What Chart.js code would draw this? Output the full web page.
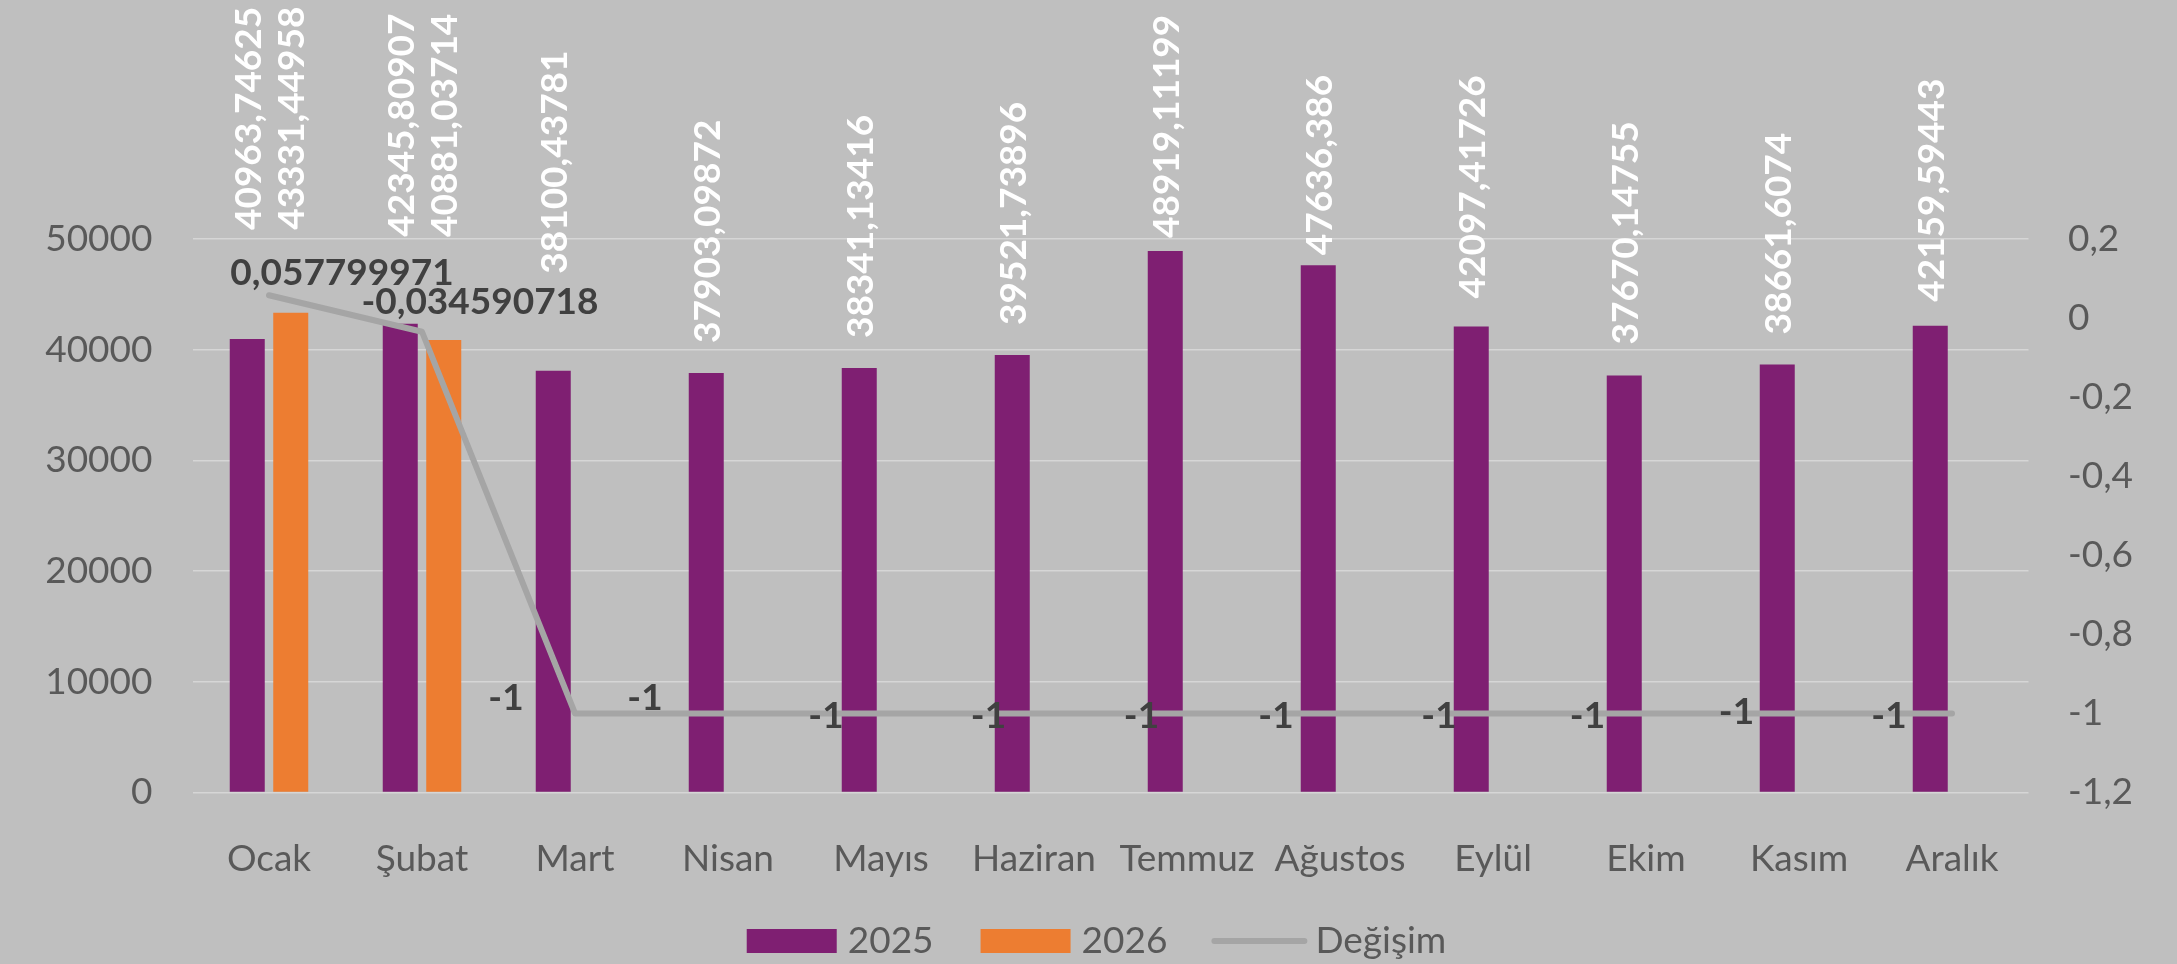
<!DOCTYPE html>
<html>
<head>
<meta charset="utf-8">
<script src="https://cdn.jsdelivr.net/npm/chart.js@4.4.1/dist/chart.umd.min.js"></script>
<style>
  html, body { margin: 0; padding: 0; background: #BFBFBF; }
  #wrap { width: 2177px; height: 964px; position: relative; }
</style>
</head>
<body>
<div id="wrap"><canvas id="c" width="2177" height="964"></canvas></div>
<script>
// ---------- DATA ----------
const categories = ['Ocak', 'Şubat', 'Mart', 'Nisan', 'Mayıs', 'Haziran', 'Temmuz', 'Ağustos', 'Eylül', 'Ekim', 'Kasım', 'Aralık'];
const seriesNames = ['2025', '2026', 'Değişim'];
const values2025 = [40963.74625, 42345.80907, 38100.43781, 37903.09872, 38341.13416, 39521.73896, 48919.11199, 47636.386, 42097.41726, 37670.14755, 38661.6074, 42159.59443];
const values2026 = [43331.44958, 40881.03714, null, null, null, null, null, null, null, null, null, null];
const changeValues = [0.057799971, -0.034590718, -1, -1, -1, -1, -1, -1, -1, -1, -1, -1];
const leftTicks = [0, 10000, 20000, 30000, 40000, 50000];
const rightTicks = [-1.2, -1, -0.8, -0.6, -0.4, -0.2, 0, 0.2];

// ---------- LABEL PLACEMENT (pixel nudges, not data) ----------
const barLabelGap2025 = [109, 87, 97, 30, 30, 30, 13, 10, 28, 31, 30, 24];
const barLabelGap2026 = [83, 103, 30, 30, 30, 30, 30, 30, 30, 30, 30, 30];
const lineLabelDx = [73, 58, -69, -83, -55, -45.5, -45.5, -64, -54, -58.5, -62.5, -63];
const lineLabelDy = [-10, -18, -3, -3, 15, 15, 15, 15, 15, 15, 11, 15]; // baseline offset

// ---------- STYLE ----------
const FONT = 'Lato';
const FS = 37;
const COL_2025 = '#7F1F72';
const COL_2026 = '#ED7D31';
const COL_LINE = '#A5A5A5';
const COL_TEXT = '#595959';
const COL_LABEL_DARK = '#404040';
const BG = '#BFBFBF';

function fmt(v) { return String(v).replace('.', ','); }

const bgPlugin = {
  id: 'bg',
  beforeDraw(chart) {
    const c = chart.ctx;
    c.save();
    c.fillStyle = BG;
    c.fillRect(0, 0, chart.width, chart.height);
    c.restore();
  }
};

const labelsPlugin = {
  id: 'valueLabels',
  afterDatasetsDraw(chart) {
    const c = chart.ctx;
    c.save();
    const capH = 0.72 * FS;
    [[0, barLabelGap2025], [1, barLabelGap2026]].forEach(([di, gaps]) => {
      const meta = chart.getDatasetMeta(di);
      const ds = chart.data.datasets[di];
      meta.data.forEach((el, i) => {
        const v = ds.data[i];
        if (v === null || v === undefined) return;
        c.save();
        c.translate(el.x, el.y - gaps[i]);
        c.rotate(-Math.PI / 2);
        c.font = `700 ${FS}px ${FONT}`;
        c.fillStyle = '#FFFFFF';
        c.textAlign = 'left';
        c.textBaseline = 'alphabetic';
        c.fillText(fmt(v), 0, capH / 2);
        c.restore();
      });
    });
    const lmeta = chart.getDatasetMeta(2);
    const lds = chart.data.datasets[2];
    c.font = `700 ${FS}px ${FONT}`;
    c.fillStyle = COL_LABEL_DARK;
    c.textAlign = 'center';
    c.textBaseline = 'alphabetic';
    lmeta.data.forEach((pt, i) => {
      c.fillText(fmt(lds.data[i]), pt.x + lineLabelDx[i], pt.y + lineLabelDy[i]);
    });
    c.restore();
  }
};

const legendPlugin = {
  id: 'customLegend',
  afterDraw(chart) {
    const c = chart.ctx;
    c.save();
    c.font = `400 ${FS}px ${FONT}`;
    const boxW = 90, boxH = 24, gapText = 11, gapItem = 47;
    const items = [
      { text: seriesNames[0], kind: 'box', color: COL_2025 },
      { text: seriesNames[1], kind: 'box', color: COL_2026 },
      { text: seriesNames[2], kind: 'line', color: COL_LINE }
    ];
    let total = 0;
    items.forEach((it, i) => {
      it.tw = c.measureText(it.text).width;
      total += boxW + gapText + it.tw + (i < items.length - 1 ? gapItem : 0);
    });
    const baseline = 953;
    let x = chart.width / 2 + 8 - total / 2;
    items.forEach(it => {
      if (it.kind === 'box') {
        c.fillStyle = it.color;
        c.fillRect(x, baseline - boxH, boxW, boxH);
      } else {
        c.strokeStyle = it.color;
        c.lineWidth = 6;
        c.lineCap = 'round';
        c.beginPath();
        c.moveTo(x, baseline - boxH / 2);
        c.lineTo(x + boxW, baseline - boxH / 2);
        c.stroke();
      }
      x += boxW + gapText;
      c.fillStyle = COL_TEXT;
      c.textAlign = 'left';
      c.textBaseline = 'alphabetic';
      c.fillText(it.text, x, baseline);
      x += it.tw + gapItem;
    });
    c.restore();
  }
};

const ctx = document.getElementById('c').getContext('2d');
new Chart(ctx, {
  type: 'bar',
  data: {
    labels: categories,
    datasets: [
      {
        label: seriesNames[0], data: values2025, backgroundColor: COL_2025,
        yAxisID: 'y', order: 1, categoryPercentage: 0.5686, barPercentage: 0.8046
      },
      {
        label: seriesNames[1], data: values2026, backgroundColor: COL_2026,
        yAxisID: 'y', order: 2, categoryPercentage: 0.5686, barPercentage: 0.8046
      },
      {
        type: 'line', label: seriesNames[2], data: changeValues, yAxisID: 'y1', order: 0,
        borderColor: COL_LINE, backgroundColor: COL_LINE, borderWidth: 6, pointRadius: 0,
        pointHoverRadius: 0, tension: 0, borderCapStyle: 'round', borderJoinStyle: 'round', fill: false
      }
    ]
  },
  options: {
    responsive: false,
    animation: false,
    devicePixelRatio: 1,
    layout: { padding: { top: 239, left: 0, right: 0, bottom: 0 } },
    plugins: {
      legend: { display: false },
      tooltip: { enabled: false },
      title: { display: false }
    },
    scales: {
      x: {
        offset: true,
        grid: { display: false },
        border: { display: false },
        ticks: {
          color: COL_TEXT, font: { family: FONT, size: FS }, padding: 36,
          maxRotation: 0, minRotation: 0, autoSkip: false
        },
        afterFit(s) { s.height = 964 - 792.5; }
      },
      y: {
        position: 'left', min: leftTicks[0], max: leftTicks[leftTicks.length - 1],
        afterBuildTicks(s) { s.ticks = leftTicks.map(v => ({ value: v })); },
        grid: { color: '#D6D6D6', lineWidth: 1.5, drawTicks: false },
        border: { display: false },
        ticks: {
          color: COL_TEXT, font: { family: FONT, size: FS }, padding: 40,
          callback: v => String(v)
        },
        afterFit(s) { s.width = 192.5; }
      },
      y1: {
        position: 'right', min: rightTicks[0], max: rightTicks[rightTicks.length - 1],
        afterBuildTicks(s) { s.ticks = rightTicks.map(v => ({ value: v })); },
        grid: { display: false, drawTicks: false },
        border: { display: false },
        ticks: {
          color: COL_TEXT, font: { family: FONT, size: FS }, padding: 39.5,
          callback: v => fmt(Math.round(v * 10) / 10)
        },
        afterFit(s) { s.width = 2177 - 2028.5; }
      }
    }
  },
  plugins: [bgPlugin, labelsPlugin, legendPlugin]
});
</script>
</body>
</html>
